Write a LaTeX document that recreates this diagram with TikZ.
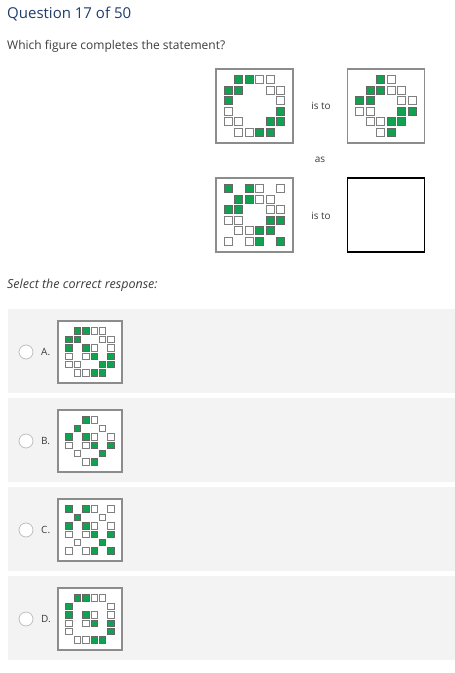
\documentclass[tikz,border=0pt]{standalone}
\usepackage{fontspec}
\setmainfont{Open Sans}
\usetikzlibrary{positioning}

\definecolor{qblue}{HTML}{1F3D6E}
\definecolor{txtgray}{HTML}{3C3C3C}
\definecolor{cellgreen}{HTML}{12A150}
\definecolor{panelgray}{HTML}{F3F3F3}

\tikzset{
  figbox/.style={draw=black!45, line width=1.5pt, fill=white, minimum width=77pt, minimum height=74pt, inner sep=0pt},
  optbox/.style={draw=black!45, line width=1.2pt, fill=white, minimum width=64pt, minimum height=62pt, inner sep=0pt},
  gcell/.style={draw=black!60, fill=cellgreen, line width=0.9pt},
  wcell/.style={draw=black!50, fill=white, line width=0.9pt},
  smalltext/.style={text=txtgray, font=\fontsize{10}{12}\selectfont, inner sep=0pt},
  radio/.style={circle, draw=black!25, fill=white, line width=0.8pt, minimum size=14pt, inner sep=0pt}
}

% #1 node, #2 pitch, #3 cell size, #4 rows
\newcommand{\cellgrid}[4]{%
  \begin{scope}[shift={(#1.center)}]
    \foreach \cellrow [count=\r from 0] in #4 {
      \foreach \cel [count=\k from 0] in \cellrow {
        \if g\cel
          \draw[gcell] ({(\k-2.5)*#2-#3/2},{(\r-2.5)*#2-#3/2}) rectangle ++(#3,#3);
        \fi
        \if w\cel
          \draw[wcell] ({(\k-2.5)*#2-#3/2},{(\r-2.5)*#2-#3/2}) rectangle ++(#3,#3);
        \fi
      }
    }
  \end{scope}
}

\def\figOne{{0,g,g,w,w,0},{g,g,0,0,w,w},{g,0,0,0,0,w},{w,0,0,0,0,g},{w,w,0,0,g,g},{0,w,w,g,g,0}}
\def\figTwo{{0,0,g,w,0,0},{0,g,g,w,w,0},{g,g,0,0,w,w},{w,w,0,0,g,g},{0,w,w,g,g,0},{0,0,w,g,0,0}}
\def\figThree{{g,0,g,w,0,w},{0,g,g,w,w,0},{g,g,0,0,w,w},{w,w,0,0,g,g},{0,w,w,g,g,0},{w,0,w,g,0,g}}
\def\patA{{0,g,g,w,w,0},{g,g,0,0,w,w},{g,0,g,w,0,w},{w,0,w,g,0,g},{w,w,0,0,g,g},{0,w,w,g,g,0}}
\def\patB{{0,0,g,w,0,0},{0,g,0,0,w,0},{g,0,g,w,0,w},{w,0,w,g,0,g},{0,w,0,0,g,0},{0,0,w,g,0,0}}
\def\patC{{g,0,g,w,0,w},{0,g,0,0,w,0},{g,0,g,w,0,w},{w,0,w,g,0,g},{0,w,0,0,g,0},{w,0,w,g,0,g}}
\def\patD{{0,g,g,w,w,0},{g,0,0,0,0,w},{g,0,g,w,0,w},{w,0,w,g,0,g},{w,0,0,0,0,g},{0,w,w,g,g,0}}

\begin{document}
\begin{tikzpicture}[x=1pt,y=-1pt]
	\useasboundingbox[fill=white] (0,0) rectangle (455,673);

	% header
	\node[anchor=west, text=qblue, font=\fontsize{15}{18}\selectfont, inner sep=0pt] (title) at (7,14) {Question 17 of 50};
	\node[anchor=west, smalltext, font=\fontsize{12}{14}\selectfont] (prompt) at (7,46) {Which figure completes the statement?};

	% statement
	\node[figbox] (fig1) at (254.5,106) {};
	\node[figbox, right=53pt of fig1] (fig2) {};
	\node[figbox] (fig3) at (254.5,215) {};
	\node[figbox, draw=black, line width=1.2pt, right=53pt of fig3] (blank) {};
	\cellgrid{fig1}{10.5}{7.8}{\figOne}
	\cellgrid{fig2}{10.5}{7.8}{\figTwo}
	\cellgrid{fig3}{10.5}{7.8}{\figThree}
	\node[smalltext] (isto1) at (321,106) {is to};
	\node[smalltext] (as) at (320,160) {as};
	\node[smalltext] (isto2) at (321,216) {is to};

	\node[anchor=west, smalltext, font=\fontsize{12.5}{14}\itshape] (select) at (7,285) {Select the correct response:};

	% answer panels
	\foreach \lbl [count=\i from 0] in {A,B,C,D} {
		\fill[panelgray] (8,309+89*\i) rectangle (455,393+89*\i);
		\node[radio] (rad\lbl) at (26,352+89*\i) {};
		\node[anchor=west, smalltext] (lab\lbl) at (41,352+89*\i) {\lbl.};
		\node[optbox] (opt\lbl) at (90,352+89*\i) {};
		\expandafter\let\expandafter\curpat\csname pat\lbl\endcsname
		\cellgrid{opt\lbl}{8.4}{6.5}{\curpat}
	}
\end{tikzpicture}
\end{document}
